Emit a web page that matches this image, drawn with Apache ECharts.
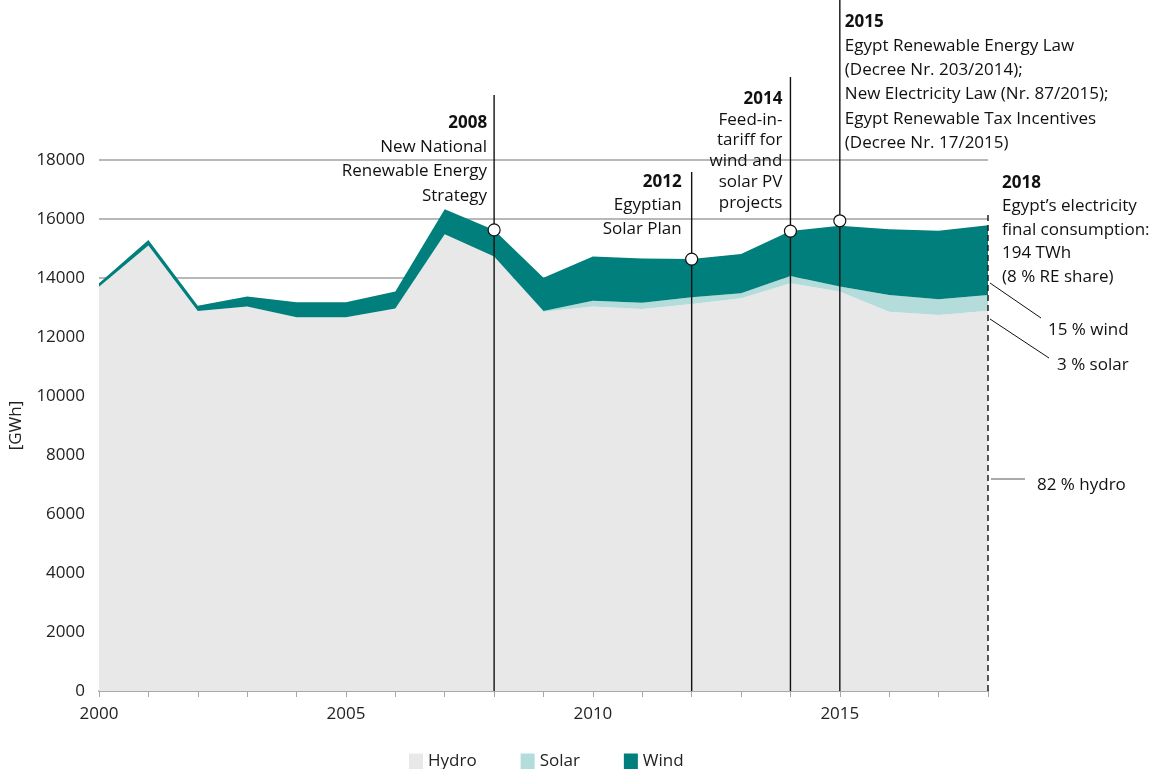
<!DOCTYPE html>
<html><head><meta charset="utf-8">
<script src="https://cdn.jsdelivr.net/npm/echarts@6/dist/echarts.min.js"></script>
<style>html,body{margin:0;padding:0;background:#fff}#c{width:1158px;height:769px}</style>
</head><body><div id="c"></div>
<script>
var years = ['2000','2001','2002','2003','2004','2005','2006','2007','2008','2009','2010','2011','2012','2013','2014','2015','2016','2017','2018'];
var hydro = [13700,15100,12880,13030,12670,12670,12970,15480,14730,12860,13030,12950,13120,13310,13820,13540,12860,12750,12890];
var solar = [0,0,0,0,0,0,0,0,0,20,200,210,230,170,250,170,565,530,530];
var wind  = [120,190,180,340,510,510,570,850,900,1130,1500,1500,1290,1330,1520,2060,2225,2320,2370];
var yTicks = [0,2000,4000,6000,8000,10000,12000,14000,16000,18000];
var eventYears = ['2008','2012','2014','2015'];

var FONT = '"Open Sans", "Noto Sans", sans-serif';
var FS = 17;
var TXT = '#222';
var C_HYDRO = '#e8e8e8', C_SOLAR = '#b3dcda', C_WIND = '#007f7c';

function total(y){ var i = years.indexOf(y); return hydro[i] + solar[i] + wind[i]; }

var chart = echarts.init(document.getElementById('c'));
var option = {
  animation: false,
  grid: {left: 98, right: 170, top: 160, bottom: 78},
  legend: {
    bottom: -6, left: 404, icon: 'rect', itemWidth: 14, itemHeight: 16, itemGap: 44,
    textStyle: {fontFamily: FONT, fontSize: FS, color: TXT},
    data: ['Hydro','Solar','Wind']
  },
  xAxis: {
    type: 'category', data: years, boundaryGap: false,
    axisLine: {lineStyle: {color: '#a8a8a8', width: 2}},
    axisTick: {show: true, length: 6, interval: 0, lineStyle: {color: '#a8a8a8', width: 1}},
    axisLabel: {interval: 4, margin: 15, fontFamily: FONT, fontSize: FS, color: TXT},
    splitLine: {show: false}
  },
  yAxis: {
    type: 'value', min: yTicks[0], max: yTicks[yTicks.length-1], interval: 2000,
    name: '[GWh]', nameLocation: 'middle', nameGap: 74, nameRotate: 90,
    nameTextStyle: {fontFamily: FONT, fontSize: FS, color: TXT},
    axisLine: {show: false}, axisTick: {show: false},
    axisLabel: {margin: 14, fontFamily: FONT, fontSize: FS, color: TXT, formatter: function(v){ return String(v); }},
    splitLine: {show: true, lineStyle: {color: '#a0a0a0', width: 1.5}}
  },
  series: [
    {name: 'Hydro', type: 'line', stack: 'a', data: hydro, symbol: 'none', lineStyle: {width: 0}, itemStyle: {color: C_HYDRO}, areaStyle: {color: C_HYDRO, opacity: 1}},
    {name: 'Solar', type: 'line', stack: 'a', data: solar, symbol: 'none', lineStyle: {width: 0}, itemStyle: {color: C_SOLAR}, areaStyle: {color: C_SOLAR, opacity: 1}},
    {name: 'Wind', type: 'line', stack: 'a', data: wind, symbol: 'none', lineStyle: {width: 0}, itemStyle: {color: C_WIND}, areaStyle: {color: C_WIND, opacity: 1}}
  ]
};
chart.setOption(option);

// annotations (layout)
var notes = [
  {year: '2008', lineTop: 95, side: 'right', dx: -7, top: 123, lh: 24.3, lines: ['2008','New National','Renewable Energy','Strategy']},
  {year: '2012', lineTop: 172, side: 'right', dx: -10, top: 182, lh: 23.5, lines: ['2012','Egyptian','Solar Plan']},
  {year: '2014', lineTop: 77, side: 'right', dx: -8, top: 99, lh: 20.8, lines: ['2014','Feed-in-','tariff for','wind and','solar PV','projects']},
  {year: '2015', lineTop: 0, side: 'left', dx: 5, top: 22, lh: 24.2, lines: ['2015','Egypt Renewable Energy Law','(Decree Nr. 203/2014);','New Electricity Law (Nr. 87/2015);','Egypt Renewable Tax Incentives','(Decree Nr. 17/2015)']},
  {year: '2018', lineTop: 215, side: 'left', dx: 14, top: 183, lh: 23.5, dashed: true, lines: ['2018','Egypt\u2019s electricity','final consumption:','194 TWh','(8 % RE share)']}
];
var baseY = chart.convertToPixel({yAxisIndex: 0}, 0);
var g = [];
notes.forEach(function(n){
  var x = chart.convertToPixel({xAxisIndex: 0}, n.year);
  g.push({type: 'line', z: 50, shape: {x1: x, y1: n.lineTop, x2: x, y2: baseY},
    style: {stroke: '#111', lineWidth: 1.4, lineDash: n.dashed ? [6,4] : null}});
  n.lines.forEach(function(t, i){
    g.push({type: 'text', z: 60, x: x + n.dx, y: n.top + i * n.lh,
      style: {text: t, fill: '#111', font: (i === 0 ? 'bold ' : '') + FS + 'px ' + FONT,
        textAlign: n.side, textVerticalAlign: 'middle'}});
  });
});
// leader lines for 2018 shares
var leaders = [
  {x1: 990, y1: 283, x2: 1041, y2: 318, tx: 1048, ty: 330, text: '15 % wind'},
  {x1: 990, y1: 319, x2: 1049, y2: 358, tx: 1057, ty: 365, text: '3 % solar'},
  {x1: 991, y1: 479, x2: 1025, y2: 479, tx: 1037, ty: 485, text: '82 % hydro', color: '#555'}
];
leaders.forEach(function(l){
  g.push({type: 'line', z: 50, shape: {x1: l.x1, y1: l.y1, x2: l.x2, y2: l.y2}, style: {stroke: l.color || '#111', lineWidth: 1}});
  g.push({type: 'text', z: 60, x: l.tx, y: l.ty, style: {text: l.text, fill: '#111', font: FS + 'px ' + FONT, textAlign: 'left', textVerticalAlign: 'middle'}});
});

var circleData = eventYears.map(function(y){
  var d = {value: [y, total(y)]};
  if (y === '2015') d.symbolOffset = [0, -5];
  return d;
});
chart.setOption({
  graphic: g,
  series: option.series.concat([{
    type: 'scatter', data: circleData, symbol: 'circle', symbolSize: 12, z: 100,
    itemStyle: {color: '#ffffff', opacity: 1, borderColor: '#111', borderWidth: 1.2},
    emphasis: {disabled: true},
    silent: true
  }])
});
</script></body></html>
